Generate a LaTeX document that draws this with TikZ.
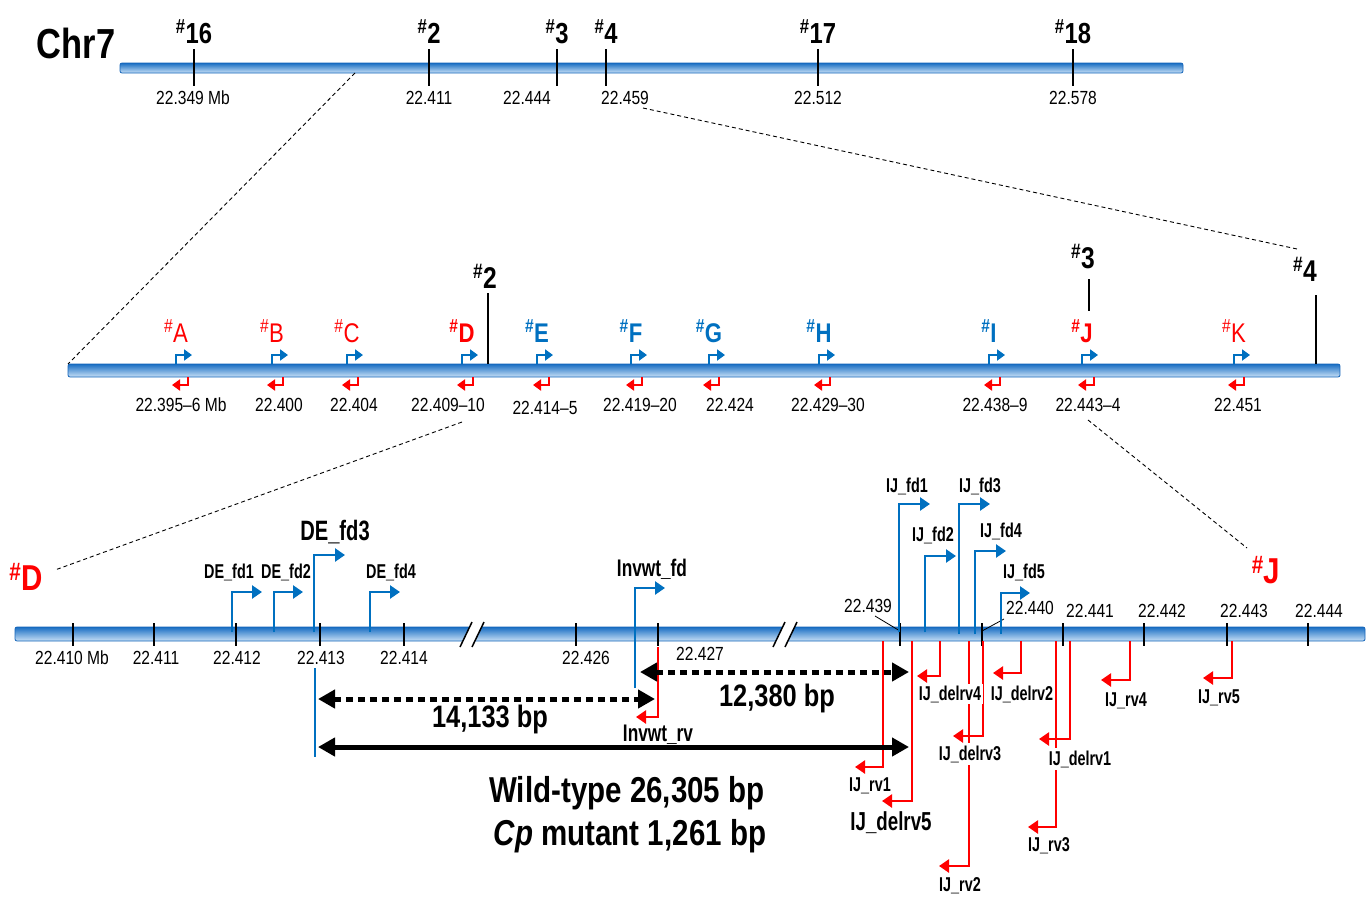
\documentclass[tikz,border=0pt]{standalone}
\usepackage{fontspec}
\setmainfont[FakeStretch=0.82]{Liberation Sans}
\newfontfamily\cond[FakeStretch=0.72]{Liberation Sans}
\usetikzlibrary{arrows.meta}
\definecolor{myblue}{RGB}{0,112,192}
\definecolor{myred}{RGB}{255,0,0}
\definecolor{barA}{RGB}{25,110,195}
\definecolor{barB}{RGB}{200,224,246}
\definecolor{barC}{RGB}{20,100,185}
\begin{document}
\begin{tikzpicture}[x=1pt,y=-1pt,
  numlab/.style={anchor=base, inner sep=0pt, font=\fontsize{19}{19}\selectfont},
  plab/.style={anchor=base, inner sep=0pt, font=\cond\bfseries\fontsize{20}{20}\selectfont},
  tickline/.style={line width=1.5pt},
  fwd/.style={draw=myblue, line width=2.5pt, -{Triangle[length=10pt,width=13pt]}},
  rev/.style={draw=myred, line width=2.5pt, -{Triangle[length=10pt,width=13pt]}},
  sfwd/.style={draw=myblue, line width=2pt, -{Triangle[length=8pt,width=11pt]}},
  srev/.style={draw=myred, line width=2pt, -{Triangle[length=8pt,width=11pt]}},
  zoomline/.style={line width=0.9pt, dash pattern=on 4pt off 3pt},
  chrbar/.style={top color=barA, bottom color=barB, draw=barC, line width=0.8pt, rounded corners=2pt},
  dotarrow/.style={line width=5pt, dash pattern=on 7pt off 5pt, {Triangle[length=17pt,width=18pt]}-{Triangle[length=17pt,width=18pt]}},
  solarrow/.style={line width=5pt, {Triangle[length=17pt,width=18pt]}-{Triangle[length=17pt,width=18pt]}},
  bplab/.style={anchor=base, inner sep=0pt, font=\bfseries\fontsize{31}{31}\selectfont},
]
\useasboundingbox (0,0) rectangle (1372,897);

% ---------------- top chromosome
\node[anchor=base, inner sep=0pt, font=\bfseries\fontsize{42}{42}\selectfont] (chr) at (76,58) {Chr7};
\path[chrbar] (120,63) rectangle (1183,73);
\foreach \x/\n/\lab/\lx [count=\i] in {194/16/22.349 Mb/193, 429/2/22.411/429, 557/3/22.444/527, 606/4/22.459/625, 818/17/22.512/818, 1073/18/22.578/1073}{
  \draw[tickline] (\x,49) -- (\x,86);
  \node[anchor=base, inner sep=0pt, font=\bfseries\fontsize{29}{29}\selectfont] (t\i) at (\x,43) {\textsuperscript{\#}\n};
  \node[numlab] (tl\i) at (\lx,104) {\lab};
}
\coordinate (zl1) at (355,73);
\coordinate (zl2) at (643,108);

% ---------------- middle map
\path[chrbar] (68,364) rectangle (1340,377);
\coordinate (mL) at (68,364);
\draw[tickline] (488,293) -- (488,364);
\node[anchor=base, inner sep=0pt, font=\bfseries\fontsize{30}{30}\selectfont] (m2) at (485,288) {\textsuperscript{\#}2};
\draw[tickline] (1089,279) -- (1089,311);
\node[anchor=base, inner sep=0pt, font=\bfseries\fontsize{30}{30}\selectfont] (m3) at (1083,268) {\textsuperscript{\#}3};
\draw[tickline] (1316,295) -- (1316,364);
\node[anchor=base, inner sep=0pt, font=\bfseries\fontsize{30}{30}\selectfont] (m4) at (1305,281) {\textsuperscript{\#}4};

\foreach \b/\r/\l/\c/\w in {176/188/A/myred/\mdseries, 272/283/B/myred/\mdseries, 347/358/C/myred/\mdseries, 462/473/D/myred/\bfseries, 537/549/E/myblue/\bfseries, 631/642/F/myblue/\bfseries, 709/719/G/myblue/\bfseries, 819/830/H/myblue/\bfseries, 989/1000/I/myblue/\bfseries, 1082/1094/J/myred/\bfseries, 1234/1244/K/myred/\mdseries}{
  \draw[sfwd] (\b,364) -- (\b,355) -- ({\b+16},355);
  \draw[srev] (\r,377) -- (\r,385) -- ({\r-16},385);
  \node[anchor=base, inner sep=0pt, text=\c, font=\w\fontsize{27}{27}\selectfont] (mk\l) at (\b,342) {\textsuperscript{\#}\l};
}
\foreach \x/\lab [count=\i] in {181/22.395–6 Mb, 279/22.400, 354/22.404, 448/22.409–10, 640/22.419–20, 730/22.424, 828/22.429–30, 995/22.438–9, 1088/22.443–4, 1238/22.451}{
  \node[numlab] (ml\i) at (\x,411) {\lab};
}
\node[numlab] (mlE) at (545,414) {22.414–5};

% ---------------- zoom lines
\draw[zoomline] (zl1) -- (mL);
\draw[zoomline] (zl2) -- (1297,249);
\node[anchor=base, inner sep=0pt, text=myred, font=\bfseries\fontsize{36}{36}\selectfont] (bD) at (26,590) {\textsuperscript{\#}D};
\node[anchor=base, inner sep=0pt, text=myred, font=\bfseries\fontsize{36}{36}\selectfont] (bJ) at (1266,583) {\textsuperscript{\#}J};
\draw[zoomline] (462,422) -- (55,570);
\draw[zoomline] (1088,420) -- (1247,548);

% ---------------- bottom map
\path[chrbar] (15,627) rectangle (1365,641);
% breaks
\foreach \bx in {460,773}{
  \fill[white] (\bx,647) -- ({\bx+12},622) -- ({\bx+24},622) -- ({\bx+12},647) -- cycle;
  \draw[line width=1.5pt] (\bx,647) -- ({\bx+12},622);
  \draw[line width=1.5pt] ({\bx+12},647) -- ({\bx+24},622);
}
\foreach \x in {73,154,236,320,404,576,658,900,982,1063,1144,1227,1308}{
  \draw[tickline] (\x,623) -- (\x,646);
}
\foreach \x/\lab [count=\i] in {72/22.410 Mb, 156/22.411, 237/22.412, 321/22.413, 404/22.414, 586/22.426}{
  \node[numlab] (bl\i) at (\x,664) {\lab};
}
\node[numlab] (b427) at (700,660) {22.427};
\node[numlab] (b439) at (868,612) {22.439};
\node[numlab] (b440) at (1030,614) {22.440};
\node[numlab] (b441) at (1090,617) {22.441};
\node[numlab] (b442) at (1162,617) {22.442};
\node[numlab] (b443) at (1244,617) {22.443};
\node[numlab] (b444) at (1319,617) {22.444};
\draw[line width=0.8pt] (875,616) -- (900,631);
\draw[line width=0.8pt] (1004,619) -- (982,631);

% forward primers (blue)
\draw[fwd] (232,632) -- (232,592) -- (262,592);
\draw[fwd] (274,632) -- (274,592) -- (303,592);
\draw[fwd] (314,632) -- (314,555) -- (345,555);
\draw[fwd] (370,632) -- (370,592) -- (400,592);
\draw[fwd] (635,688) -- (635,588) -- (665,588);
\draw[myblue, line width=2.5pt] (315,668) -- (315,757);
\draw[fwd] (899,632) -- (899,504) -- (930,504);
\draw[fwd] (925,632) -- (925,556) -- (956,556);
\draw[fwd] (959,634) -- (959,504) -- (990,504);
\draw[fwd] (975,634) -- (975,551) -- (1006,551);
\draw[fwd] (1001,634) -- (1001,593) -- (1030,593);

% reverse primers (red)
\draw[rev] (658,647) -- (658,717) -- (636,717);
\draw[rev] (883,641) -- (883,767) -- (855,767);
\draw[rev] (912,641) -- (912,801) -- (882,801);
\draw[rev] (940,641) -- (940,676) -- (917,676);
\draw[rev] (969,641) -- (969,866) -- (939,866);
\draw[rev] (983,641) -- (983,736) -- (953,736);
\draw[rev] (1021,641) -- (1021,673) -- (993,673);
\draw[rev] (1056,641) -- (1056,827) -- (1028,827);
\draw[rev] (1070,641) -- (1070,739) -- (1039,739);
\draw[rev] (1130,641) -- (1130,680) -- (1101,680);
\draw[rev] (1232,641) -- (1232,678) -- (1203,678);

% primer labels
\node[plab] (pd1) at (229,578) {DE\_fd1};
\node[plab] (pd2) at (286,578) {DE\_fd2};
\node[plab, font=\cond\bfseries\fontsize{28}{28}\selectfont] (pd3) at (335,540) {DE\_fd3};
\node[plab] (pd4) at (391,578) {DE\_fd4};
\node[plab, font=\cond\bfseries\fontsize{24}{24}\selectfont] (pif) at (652,576) {Invwt\_fd};
\node[plab, font=\cond\bfseries\fontsize{24}{24}\selectfont] (pir) at (658,741) {Invwt\_rv};
\node[plab] (jf1) at (907,492) {IJ\_fd1};
\node[plab] (jf2) at (933,541) {IJ\_fd2};
\node[plab] (jf3) at (980,492) {IJ\_fd3};
\node[plab] (jf4) at (1001,537) {IJ\_fd4};
\node[plab] (jf5) at (1024,578) {IJ\_fd5};
\node[plab] (jr1) at (870,791) {IJ\_rv1};
\node[plab, font=\cond\bfseries\fontsize{26}{26}\selectfont] (jd5) at (891,830) {IJ\_delrv5};
\node[plab, fill=white, inner sep=2pt] (jd4) at (950,700) {IJ\_delrv4};
\node[plab, fill=white, inner sep=3pt] (jd3) at (970,760) {IJ\_delrv3};
\node[plab] (jr2) at (960,891) {IJ\_rv2};
\node[plab] (jd2) at (1022,700) {IJ\_delrv2};
\node[plab, fill=white, inner sep=3pt] (jd1) at (1080,765) {IJ\_delrv1};
\node[plab] (jr3) at (1049,851) {IJ\_rv3};
\node[plab] (jr4) at (1126,706) {IJ\_rv4};
\node[plab] (jr5) at (1219,703) {IJ\_rv5};

% distance arrows
\coordinate (a1) at (318,699); \coordinate (a2) at (655,699);
\coordinate (a3) at (640,672); \coordinate (a4) at (909,672);
\coordinate (a5) at (318,747); \coordinate (a6) at (909,747);
\draw[dotarrow] (a1) -- (a2);
\draw[dotarrow] (a3) -- (a4);
\draw[solarrow] (a5) -- (a6);
\node[bplab] (d1) at (490,727) {14,133 bp};
\node[bplab] (d2) at (777,706) {12,380 bp};
\node[anchor=base, inner sep=0pt, font=\bfseries\fontsize{36}{36}\selectfont] (wt) at (627,802) {Wild-type 26,305 bp};
\node[anchor=base, inner sep=0pt, font=\bfseries\fontsize{36}{36}\selectfont] (cp) at (630,845) {\textit{Cp} mutant 1,261 bp};
\end{tikzpicture}
\end{document}
